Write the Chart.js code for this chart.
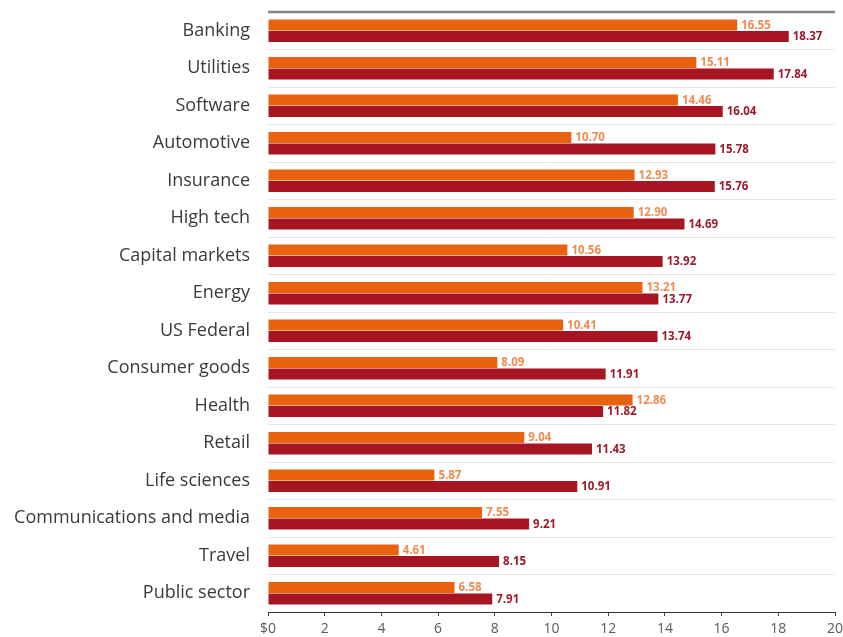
<!DOCTYPE html>
<html>
<head>
<meta charset="utf-8">
<script src="https://cdn.jsdelivr.net/npm/chart.js@4.4.1/dist/chart.umd.min.js"></script>
<style>
  html, body { margin: 0; padding: 0; background: #fff; }
  #wrap { width: 843px; height: 637px; }
</style>
</head>
<body>
<div id="wrap"><canvas id="industryChart"></canvas></div>
<script>
const industries = [
  'Banking', 'Utilities', 'Software', 'Automotive', 'Insurance', 'High tech',
  'Capital markets', 'Energy', 'US Federal', 'Consumer goods', 'Health', 'Retail',
  'Life sciences', 'Communications and media', 'Travel', 'Public sector'
];
const seriesA = [16.55, 15.11, 14.46, 10.70, 12.93, 12.90, 10.56, 13.21, 10.41, 8.09, 12.86, 9.04, 5.87, 7.55, 4.61, 6.58];
const seriesB = [18.37, 17.84, 16.04, 15.78, 15.76, 14.69, 13.92, 13.77, 13.74, 11.91, 11.82, 11.43, 10.91, 9.21, 8.15, 7.91];
const xTicks = [0, 2, 4, 6, 8, 10, 12, 14, 16, 18, 20];

const FONT = '"Open Sans", Roboto, sans-serif';

// numbers printed just past the end of each bar
const valueLabels = {
  id: 'valueLabels',
  afterDatasetsDraw(chart) {
    const ctx = chart.ctx;
    ctx.save();
    ctx.font = 'bold 11.5px ' + FONT;
    ctx.textBaseline = 'middle';
    ctx.textAlign = 'left';
    chart.data.datasets.forEach((ds, i) => {
      const meta = chart.getDatasetMeta(i);
      ctx.fillStyle = ds.labelColor;
      meta.data.forEach((bar, j) => {
        ctx.fillText(ds.data[j].toFixed(2), bar.x + 4, bar.y + 0.5);
      });
    });
    ctx.restore();
  }
};

// heavier grey rule along the top of the plot
const topRule = {
  id: 'topRule',
  afterDraw(chart) {
    const { ctx, chartArea } = chart;
    ctx.save();
    ctx.strokeStyle = '#858585';
    ctx.lineWidth = 2.5;
    ctx.beginPath();
    ctx.moveTo(chartArea.left, chartArea.top);
    ctx.lineTo(chartArea.right, chartArea.top);
    ctx.stroke();
    ctx.restore();
  }
};

new Chart(document.getElementById('industryChart'), {
  type: 'bar',
  data: {
    labels: industries,
    datasets: [
      { data: seriesA, backgroundColor: '#e8620f', labelColor: '#ef8c50' },
      { data: seriesB, backgroundColor: '#a81522', labelColor: '#9c1a2c' }
    ]
  },
  options: {
    indexAxis: 'y',
    responsive: true,
    maintainAspectRatio: false,
    animation: false,
    layout: { padding: { top: 12, right: 8, left: 0, bottom: 0 } },
    datasets: { bar: { categoryPercentage: 0.62, barPercentage: 0.94 } },
    plugins: { legend: { display: false }, tooltip: { enabled: false } },
    scales: {
      x: {
        min: 0,
        max: 20,
        afterBuildTicks(scale) { scale.ticks = xTicks.map(v => ({ value: v })); },
        afterFit(scale) {
          scale.height = 25;
          scale.paddingRight = 0; // let the "20" label hang into the margin
        },
        grid: { drawOnChartArea: false, tickLength: 4, color: '#444', lineWidth: 1 },
        border: { color: '#333', width: 1 },
        ticks: {
          padding: 5,
          color: '#5a5a5a',
          font: { family: FONT, size: 14 },
          callback: v => v === 0 ? '$0' : String(v)
        }
      },
      y: {
        afterFit(scale) { scale.width = 268; },
        grid: { color: '#dfe5ec', drawTicks: true, tickLength: 18, tickColor: 'rgba(0,0,0,0)', lineWidth: 1 },
        border: { display: false },
        ticks: {
          padding: 0,
          color: '#3a3a3a',
          font: { family: FONT, size: 18 }
        }
      }
    }
  },
  plugins: [valueLabels, topRule]
});
</script>
</body>
</html>
